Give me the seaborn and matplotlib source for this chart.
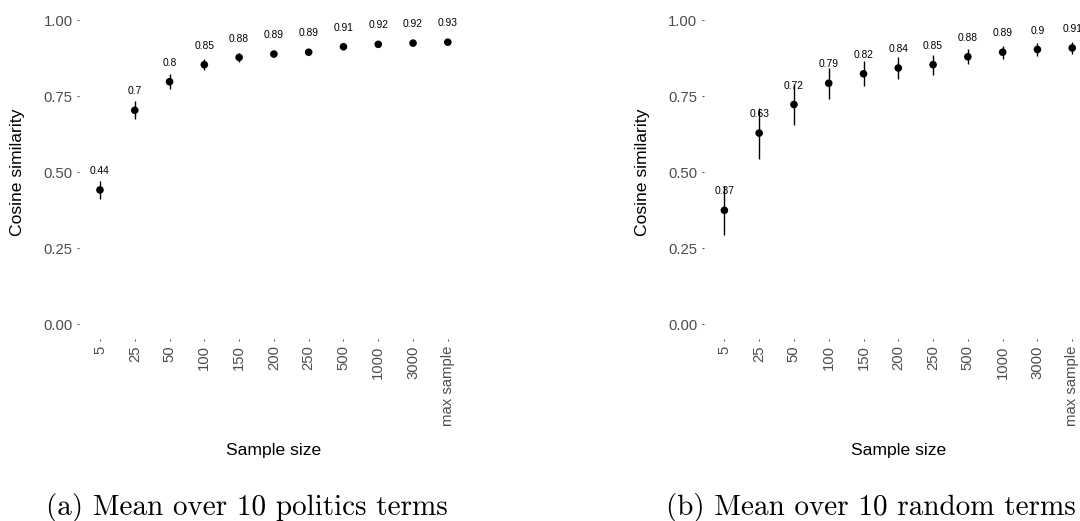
import matplotlib
matplotlib.use("Agg")
import matplotlib.pyplot as plt
import seaborn as sns
import numpy as np

# Sample sizes (categorical x axis)
sample_sizes = ["5", "25", "50", "100", "150", "200", "250", "500", "1000", "3000", "max sample"]

# (a) politics terms: mean cosine similarity and error half-width
politics_mean = [0.441, 0.703, 0.797, 0.853, 0.877, 0.888, 0.894, 0.912, 0.920, 0.924, 0.927]
politics_err = [0.031, 0.030, 0.025, 0.018, 0.014, 0.008, 0.006, 0.005, 0.004, 0.004, 0.004]

# (b) random terms
random_mean = [0.374, 0.628, 0.722, 0.792, 0.823, 0.842, 0.853, 0.879, 0.894, 0.903, 0.908]
random_err = [0.081, 0.084, 0.068, 0.051, 0.041, 0.037, 0.033, 0.025, 0.022, 0.020, 0.020]

y_ticks = [0.0, 0.25, 0.5, 0.75, 1.0]
captions = ["(a) Mean over 10 politics terms", "(b) Mean over 10 random terms"]

sns.set_theme(style="white")
plt.rcParams["font.family"] = ["Liberation Sans", "DejaVu Sans"]

W, H = 1080, 521
fig = plt.figure(figsize=(W / 100, H / 100), dpi=100)


def px_axes(left, top, right, bottom):
    return fig.add_axes([left / W, 1 - bottom / H, (right - left) / W, (bottom - top) / H])


panels = [
    (px_axes(79.1, 4.8, 468.7, 339.2), politics_mean, politics_err, 247, 18),
    (px_axes(703.5, 4.8, 1093.1, 339.2), random_mean, random_err, 871, 643),
]

for i, (ax, means, errs, cap_x, ylab_x) in enumerate(panels):
    means = np.asarray(means)
    errs = np.asarray(errs)
    ax.vlines(sample_sizes, means - errs, means + errs, color="black", linewidth=1.0, zorder=2)
    sns.scatterplot(x=sample_sizes, y=means, ax=ax, color="black", s=30,
                    linewidth=0, edgecolor="none", zorder=3)
    for cat, m in zip(sample_sizes, means):
        ax.text(cat, m + 0.062, f"{round(float(m), 2):g}", ha="center", va="center",
                fontsize=7.4, color="black")

    ax.set_xlim(-0.6, len(sample_sizes) - 0.4)
    ax.set_ylim(-0.05, 1.05)
    ax.set_yticks(y_ticks)
    ax.set_yticklabels([f"{t:.2f}" for t in y_ticks])
    ax.tick_params(axis="both", which="major", length=1.5, width=0.6, color="#333333",
                   pad=3, labelsize=10.7, labelcolor="#4D4D4D", left=True, bottom=True)
    ax.tick_params(axis="x", labelrotation=90)
    sns.despine(ax=ax, left=True, bottom=True)
    ax.grid(False)

    ax.set_xlabel("Sample size", fontsize=12.6, color="black")
    ax.set_ylabel("Cosine similarity", fontsize=12.6, color="black")
    ax.xaxis.label.set_verticalalignment("center")
    ax.yaxis.label.set_verticalalignment("center")
    ax.xaxis.set_label_coords(0.5, (339.2 - 450) / (339.2 - 4.8))
    ax.yaxis.set_label_coords((ylab_x - (79.1 if i == 0 else 703.5)) / 389.6, 0.5)

    fig.text(cap_x / W, 1 - 515 / H, captions[i], family="cmr10", fontsize=21,
             ha="center", va="baseline", color="black")

fig.savefig("out.png", dpi=100)
